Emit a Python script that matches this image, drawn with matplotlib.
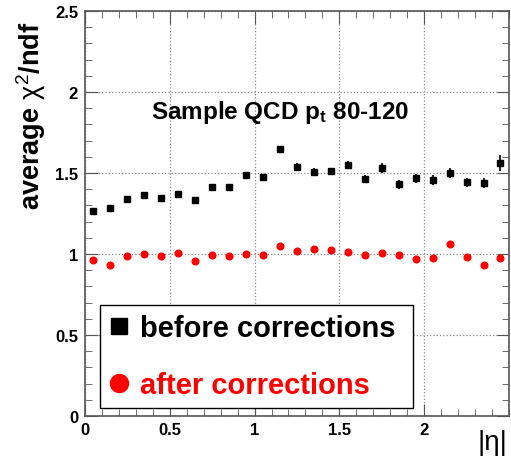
import numpy as np
import matplotlib
matplotlib.use("Agg")
import matplotlib.pyplot as plt
from matplotlib.ticker import MultipleLocator

plt.rcParams['font.family'] = ['Liberation Sans', 'DejaVu Sans']
plt.rcParams['mathtext.fontset'] = 'custom'
plt.rcParams['mathtext.rm'] = 'Liberation Sans'
plt.rcParams['mathtext.it'] = 'Liberation Sans'
plt.rcParams['mathtext.bf'] = 'Liberation Sans:bold'

# |eta| bin centres
eta = [0.05, 0.15, 0.25, 0.35, 0.45, 0.55, 0.65, 0.75, 0.85, 0.95,
       1.05, 1.15, 1.25, 1.35, 1.45, 1.55, 1.65, 1.75, 1.85, 1.95,
       2.05, 2.15, 2.25, 2.35, 2.45]
before = [1.265, 1.284, 1.34, 1.364, 1.346, 1.37, 1.333, 1.414, 1.414, 1.488,
          1.475, 1.648, 1.537, 1.506, 1.512, 1.549, 1.463, 1.531, 1.432, 1.469,
          1.457, 1.50, 1.444, 1.438, 1.56]
before_err = [0.012, 0.012, 0.013, 0.013, 0.014, 0.014, 0.015, 0.016, 0.016, 0.017,
              0.018, 0.02, 0.022, 0.024, 0.022, 0.025, 0.025, 0.03, 0.028, 0.028,
              0.028, 0.03, 0.028, 0.03, 0.05]
after = [0.961, 0.930, 0.988, 0.998, 0.988, 1.008, 0.959, 0.994, 0.988, 1.002,
         0.994, 1.047, 1.020, 1.031, 1.027, 1.015, 0.994, 1.004, 0.994, 0.971,
         0.975, 1.064, 0.981, 0.930, 0.975]

fig = plt.figure(figsize=(5.11, 4.64), dpi=100)
ax = fig.add_axes([0.1663, 0.1013, 0.8297, 0.8727])

ax.errorbar(eta, before, yerr=before_err, fmt='s', color='black', ms=5,
            elinewidth=1.2, capsize=0, zorder=3)
ax.plot(eta, after, 'o', color='red', ms=4.8, mec='red', zorder=3)

ax.set_xlim(0, 2.5)
ax.set_ylim(0, 2.5)
ax.xaxis.set_major_locator(MultipleLocator(0.5))
ax.xaxis.set_minor_locator(MultipleLocator(0.1))
ax.yaxis.set_major_locator(MultipleLocator(0.5))
ax.yaxis.set_minor_locator(MultipleLocator(0.1))
ax.set_xticks([0, 0.5, 1, 1.5, 2])
ax.xaxis.set_major_formatter(plt.FuncFormatter(lambda v, p: f"{v:g}"))
ax.yaxis.set_major_formatter(plt.FuncFormatter(lambda v, p: f"{v:g}"))
ax.tick_params(which='both', direction='in', top=True, right=True, color='#555555')
ax.tick_params(which='major', length=9, labelsize=12, pad=5)
ax.tick_params(which='minor', length=5)
ax.tick_params(axis='x', which='major', pad=4)
for lab in ax.get_xticklabels() + ax.get_yticklabels():
    lab.set_fontweight('bold')
for s in ax.spines.values():
    s.set_color('#555555')
    s.set_linewidth(1.2)

ax.grid(True, which='major', linestyle=':', color='#888888', linewidth=0.9)

ax.set_ylabel(r"average $\chi^2$/ndf", fontsize=19.5, fontweight='bold')
ax.yaxis.set_label_coords(-0.088, 0.745)
ax.text(0.96, -0.065, "|η|", transform=ax.transAxes, fontsize=20, ha='center', va='center')

ax.text(0.155, 0.752, r"Sample QCD p$_\mathbf{t}$ 80-120", transform=ax.transAxes,
        fontsize=17.5, fontweight='bold', va='center')

h1, = ax.plot([], [], 's', color='black', ms=12)
h2, = ax.plot([], [], 'o', color='red', ms=13)
leg = ax.legend([h1, h2], ["before corrections", "after corrections"],
                loc='lower left', bbox_to_anchor=(0.036, 0.02, 0.738, 0.264),
                mode='expand', borderaxespad=0, fancybox=False, shadow=False, framealpha=1,
                edgecolor='black', handlelength=0.7, handletextpad=0.35,
                labelspacing=1.0, borderpad=0.3, prop={'weight': 'bold', 'size': 21})
leg.get_frame().set_linewidth(1.0)
leg.texts[1].set_color('red')
leg.set_zorder(5)

fig.savefig("out.png", dpi=100)
